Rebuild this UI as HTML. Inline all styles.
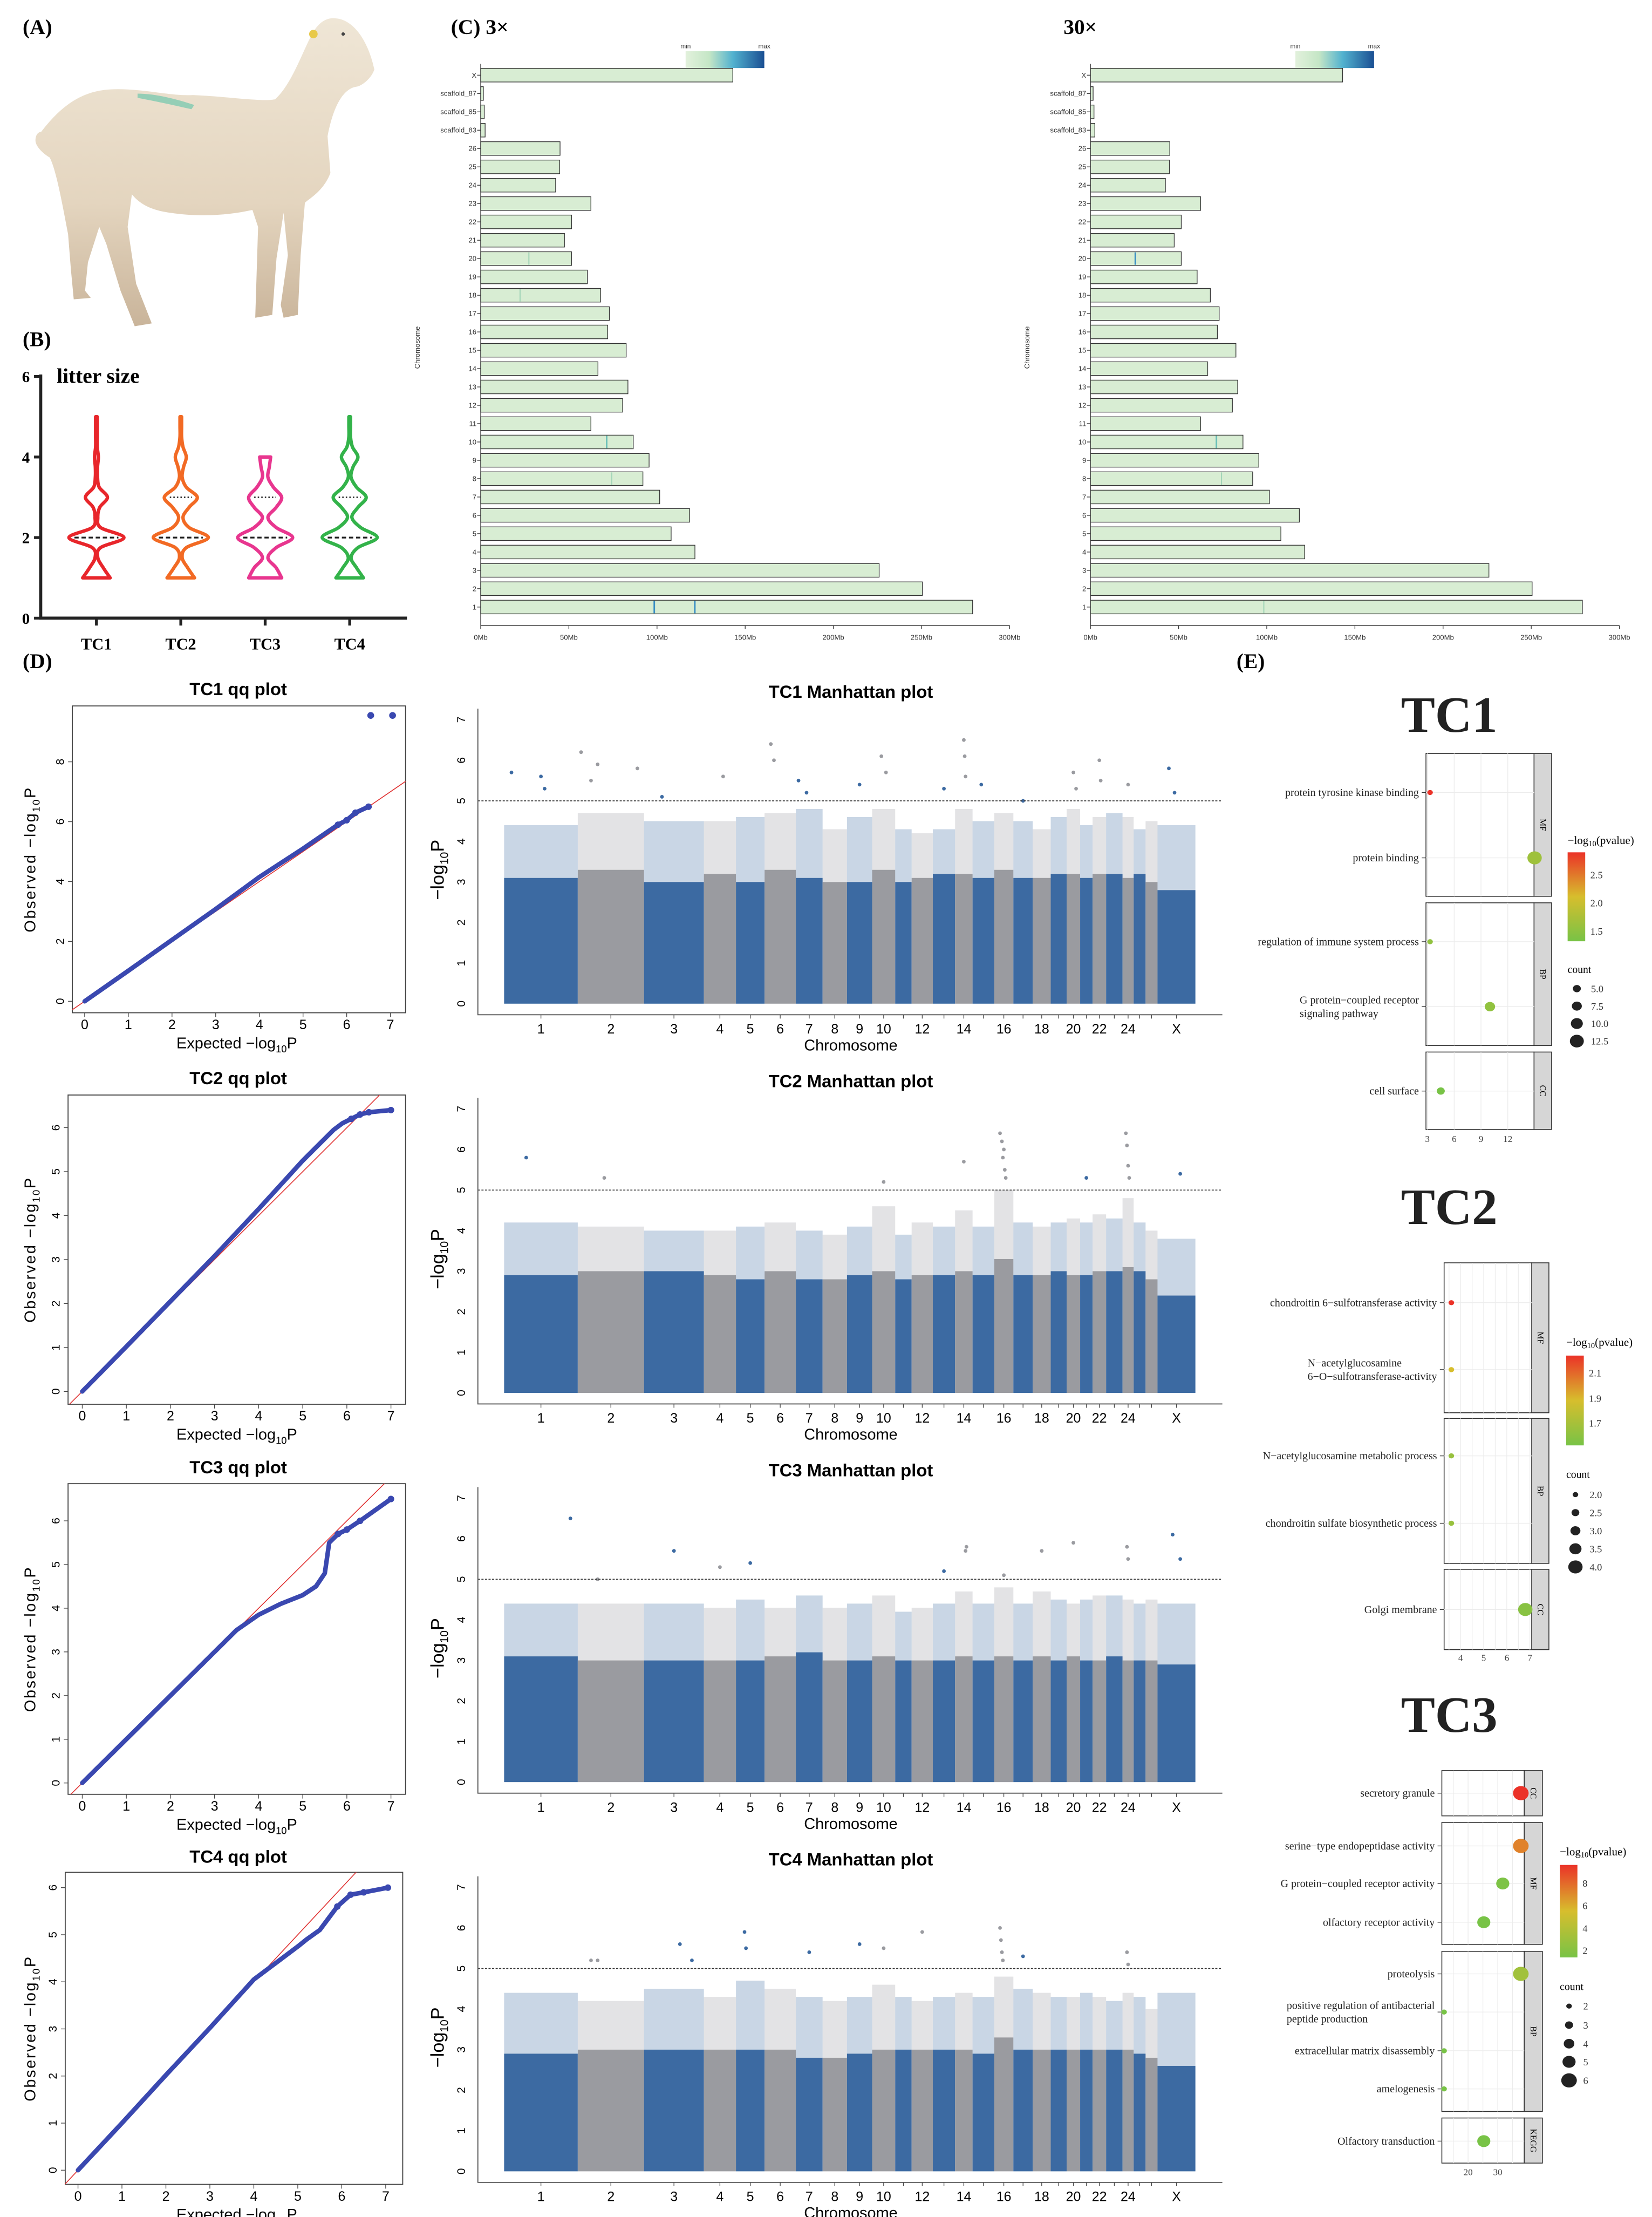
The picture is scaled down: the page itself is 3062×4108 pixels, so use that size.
<!DOCTYPE html>
<html><head><meta charset="utf-8"><style>
html,body{margin:0;padding:0;background:#fff;}
svg{display:block;}
text{font-family:"Liberation Sans",sans-serif;}
.serif{font-family:"Liberation Serif",serif;}
</style></head><body>
<svg id="fig" xmlns="http://www.w3.org/2000/svg" width="3062" height="4108" viewBox="0 0 1165 1563" preserveAspectRatio="none">
<rect x="0" y="0" width="1165" height="1563" fill="#fff"/>
<g class="serif" font-weight="bold" font-size="15">
<text x="16" y="24" class="serif">(A)</text>
<text x="16" y="244" class="serif">(B)</text>
<text x="318" y="24" class="serif">(C) 3×</text>
<text x="750" y="24" class="serif">30×</text>
<text x="16" y="471" class="serif">(D)</text>
<text x="872" y="471" class="serif">(E)</text>
</g>
<g>
<defs><linearGradient id="goatg" x1="0" y1="0" x2="0" y2="1"><stop offset="0" stop-color="#efe6d6"/><stop offset="0.6" stop-color="#e4d5bf"/><stop offset="1" stop-color="#c9b49a"/></linearGradient></defs>
<path d="M29 93 C45 72 60 64 78 63 C100 62 120 68 136 67 C160 68 185 72 194 70 C205 60 212 40 219 26 C224 16 230 12 237 13 C250 14 260 30 264 49 C262 55 256 60 252 61 C242 62 235 75 231 96 L233 122 C228 135 218 140 215 143 L212 180 L210 222 L200 224 L198 215 L203 180 L200 150 L195 182 L192 222 L180 224 L182 160 L178 148 C160 152 140 153 120 150 C105 148 98 143 93 137 L90 160 L96 200 L107 228 L95 230 L85 205 L75 172 L70 160 L62 185 L60 205 L64 210 L52 211 L50 190 L48 165 C45 150 40 120 35 111 C30 108 25 103 25 99 C25 95 27 93 29 93 Z" fill="url(#goatg)"/>
<path d="M97 66 C110 66 125 70 137 74 L135 77 C122 74 108 71 97 69 Z" fill="#7fc9b0" opacity="0.8"/>
<circle cx="221" cy="24" r="3" fill="#e8c94a"/>
<circle cx="242" cy="24" r="1.2" fill="#444"/>
</g>
<g id="violin"></g>
<g id="chromC"></g>
<g id="gwas"></g>
<g id="enrich"></g>
</svg>
<script>
// ---------- DATA ----------
const violinGroups = ['TC1','TC2','TC3','TC4'];
const violinColors = ['#e8262b','#f26a24','#e8368f','#33b34a'];
const violinLevels = [1,1.25,1.5,1.75,2,2.25,2.5,2.75,3,3.25,3.5,3.75,4,4.25,4.5,4.75,5];
const violinTC1 = [0.5,0.25,0.05,0.15,1.0,0.15,0.05,0.12,0.4,0.1,0.04,0.04,0.07,0.03,0.03,0.03,0.03];
const violinTC2 = [0.5,0.25,0.05,0.2,1.0,0.3,0.08,0.3,0.6,0.2,0.05,0.1,0.2,0.08,0.03,0.03,0.03];
const violinTC3 = [0.6,0.4,0.1,0.4,1.0,0.4,0.1,0.4,0.6,0.3,0.1,0.15,0.2];
const violinTC4 = [0.5,0.25,0.05,0.3,1.0,0.4,0.08,0.3,0.6,0.25,0.05,0.12,0.3,0.1,0.03,0.03,0.03];
const violinMedian = [2,2,2,2];
const violinQ3 = [null,3,3,3];
const violinYTicks = [0,2,4,6];

const chromLabels = ['X','scaffold_87','scaffold_85','scaffold_83','26','25','24','23','22','21','20','19','18','17','16','15','14','13','12','11','10','9','8','7','6','5','4','3','2','1'];
const lengths3x = [143,1.5,2,2.5,45,44.8,42.5,62.5,51.5,47.5,51.5,60.5,68,73,72,82.5,66.5,83.5,80.5,62.5,86.5,95.5,92,101.5,118.5,108,121.5,226,250.5,279];
const lengths30x = [143,1.5,2,2.5,45,44.8,42.5,62.5,51.5,47.5,51.5,60.5,68,73,72,82.5,66.5,83.5,80.5,62.5,86.5,95.5,92,101.5,118.5,108,121.5,226,250.5,279];
const hot3xChrom = ['1','1','10','20','8','18'];
const hot3xPos = [98,121,71,27,74,22];
const hot3xLevel = [0.6,0.6,0.35,0.25,0.2,0.15];
const hot30xChrom = ['20','10','1','8'];
const hot30xPos = [25,71,98,74];
const hot30xLevel = [0.55,0.45,0.25,0.2];
const mbTicks = [0,50,100,150,200,250,300];

const gwasNames = ['TC1','TC2','TC3','TC4'];
const chrNames = ['1','2','3','4','5','6','7','8','9','10','11','12','13','14','15','16','17','18','19','20','21','22','23','24','25','26','X'];
const chrShown = ['1','2','3','4','5','6','7','8','9','10','12','14','16','18','20','22','24','X'];
const chrLens = [278,250,226,121,108,118,101,92,95,87,62,80,84,66,82,72,73,68,60,51,47,51,62,42,45,45,143];
const denseTC1 = [3.1,3.3,3.0,3.2,3.0,3.3,3.1,3.0,3.0,3.3,3.0,3.1,3.2,3.2,3.1,3.3,3.1,3.1,3.2,3.2,3.1,3.2,3.2,3.1,3.2,3.0,2.8];
const denseTC2 = [2.9,3.0,3.0,2.9,2.8,3.0,2.8,2.8,2.9,3.0,2.8,2.9,2.9,3.0,2.9,3.3,2.9,2.9,3.0,2.9,2.9,3.0,3.0,3.1,3.0,2.8,2.4];
const denseTC3 = [3.1,3.0,3.0,3.0,3.0,3.1,3.2,3.0,3.0,3.1,3.0,3.0,3.0,3.1,3.0,3.1,3.0,3.1,3.0,3.1,3.0,3.0,3.1,3.0,3.0,3.0,2.9];
const denseTC4 = [2.9,3.0,3.0,3.0,3.0,3.0,2.8,2.8,2.9,3.0,3.0,3.0,3.0,3.0,2.9,3.3,3.0,3.0,3.0,3.0,3.0,3.0,3.0,3.0,2.9,2.8,2.6];
const sparseTC1 = [4.4,4.7,4.5,4.5,4.6,4.7,4.8,4.3,4.6,4.8,4.3,4.2,4.3,4.8,4.5,4.7,4.5,4.3,4.6,4.8,4.4,4.6,4.7,4.6,4.3,4.5,4.4];
const sparseTC2 = [4.2,4.1,4.0,4.0,4.1,4.2,4.0,3.9,4.1,4.6,3.9,4.2,4.1,4.5,4.1,5.0,4.2,4.1,4.2,4.3,4.2,4.4,4.3,4.8,4.2,4.0,3.8];
const sparseTC3 = [4.4,4.4,4.4,4.3,4.5,4.3,4.6,4.3,4.4,4.6,4.2,4.3,4.4,4.7,4.4,4.8,4.4,4.7,4.5,4.4,4.5,4.6,4.6,4.5,4.4,4.5,4.4];
const sparseTC4 = [4.4,4.2,4.5,4.3,4.7,4.5,4.3,4.2,4.3,4.6,4.3,4.2,4.3,4.4,4.3,4.8,4.5,4.4,4.3,4.3,4.4,4.3,4.2,4.4,4.3,4.0,4.4];
const peaksChrTC1 = [1,1,1,2,2,2,2,3,4,6,6,7,7,9,10,10,13,14,14,14,15,17,20,20,22,22,24,27,27];
const peaksPosTC1 = [0.1,0.5,0.55,0.05,0.3,0.2,0.9,0.3,0.6,0.2,0.3,0.1,0.4,0.5,0.4,0.6,0.5,0.5,0.55,0.6,0.4,0.5,0.5,0.7,0.5,0.6,0.5,0.3,0.45];
const peaksValTC1 = [5.7,5.6,5.3,6.2,5.9,5.5,5.8,5.1,5.6,6.4,6.0,5.5,5.2,5.4,6.1,5.7,5.3,6.5,6.1,5.6,5.4,5.0,5.7,5.3,6.0,5.5,5.4,5.8,5.2];
const peaksChrTC2 = [1,2,10,14,16,16,16,16,16,16,21,24,24,24,24,27];
const peaksPosTC2 = [0.3,0.4,0.5,0.5,0.3,0.4,0.5,0.45,0.55,0.6,0.5,0.3,0.4,0.5,0.6,0.6];
const peaksValTC2 = [5.8,5.3,5.2,5.7,6.4,6.2,6.0,5.8,5.5,5.3,5.3,6.4,6.1,5.6,5.3,5.4];
const peaksChrTC3 = [1,2,3,4,5,13,14,14,16,18,20,24,24,27,27];
const peaksPosTC3 = [0.9,0.3,0.5,0.5,0.5,0.5,0.6,0.65,0.5,0.5,0.5,0.4,0.5,0.4,0.6];
const peaksValTC3 = [6.5,5.0,5.7,5.3,5.4,5.2,5.7,5.8,5.1,5.7,5.9,5.8,5.5,6.1,5.5];
const peaksChrTC4 = [2,2,3,3,5,5,7,9,10,12,16,16,16,16,17,24,24];
const peaksPosTC4 = [0.2,0.3,0.6,0.8,0.3,0.35,0.5,0.5,0.5,0.5,0.3,0.35,0.4,0.45,0.5,0.4,0.5];
const peaksValTC4 = [5.2,5.2,5.6,5.2,5.9,5.5,5.4,5.6,5.5,5.9,6.0,5.7,5.4,5.2,5.3,5.4,5.1];

const qqExpTC1 = [0,1,2,3,4,5,5.5,5.8,6.0,6.2,6.5];
const qqObsTC1 = [0,1.02,2.05,3.08,4.15,5.1,5.6,5.9,6.05,6.3,6.5];
const qqOutExpTC1 = [6.55,7.05];
const qqOutObsTC1 = [9.55,9.55];
const qqExpTC2 = [0,1,2,3,4,4.5,5,5.3,5.5,5.7,5.9,6.1,6.3,6.5,7.0];
const qqObsTC2 = [0,1.02,2.05,3.08,4.15,4.7,5.25,5.55,5.75,5.95,6.1,6.2,6.3,6.35,6.4];
const qqExpTC3 = [0,1,2,3,3.5,4,4.5,5,5.3,5.5,5.6,5.8,6.0,6.3,7.0];
const qqObsTC3 = [0,1.0,2.0,3.0,3.5,3.85,4.1,4.3,4.5,4.8,5.5,5.7,5.8,6.0,6.5];
const qqExpTC4 = [0,1,2,3,4,4.5,5,5.2,5.5,5.7,5.9,6.2,6.5,7.05];
const qqObsTC4 = [0,1.0,2.02,3.02,4.05,4.4,4.75,4.9,5.1,5.35,5.6,5.85,5.9,6.0];

// enrichment
const e1Terms = ['protein tyrosine kinase binding','protein binding','regulation of immune system process','G protein−coupled receptor|signaling pathway','cell surface'];
const e1X = [3.3,15,3.3,10,4.5];
const e1Count = [2,13,2,8,5];
const e1P = [2.9,1.7,1.6,1.6,1.4];
const e2Terms = ['chondroitin 6−sulfotransferase activity','N−acetylglucosamine|6−O−sulfotransferase-activity','N−acetylglucosamine metabolic process','chondroitin sulfate biosynthetic process','Golgi membrane'];
const e2X = [3.6,3.6,3.6,3.6,6.8];
const e2Count = [2,2,2,2,4];
const e2P = [2.2,1.9,1.7,1.7,1.65];
const e3Terms = ['secretory granule','serine−type endopeptidase activity','G protein−coupled receptor activity','olfactory receptor activity','proteolysis','positive regulation of antibacterial|peptide production','extracellular matrix disassembly','amelogenesis','Olfactory transduction'];
const e3X = [37.8,37.8,31.7,25.3,37.8,11.9,11.9,11.9,25.3];
const e3Count = [6,6,5,5,6,2,2,2,5];
const e3P = [9,7,2.2,2,3.5,2,2,2,2];

// ---------- HELPERS ----------
const NS='http://www.w3.org/2000/svg';
function el(tag,attrs,parent){const e=document.createElementNS(NS,tag);for(const k in attrs)e.setAttribute(k,attrs[k]);parent.appendChild(e);return e;}
function tx(s,attrs,parent){const e=el('text',attrs,parent);e.textContent=s;return e;}
function smooth(pts){let d='M'+pts[0][0]+' '+pts[0][1];for(let i=0;i<pts.length-1;i++){const p0=pts[Math.max(0,i-1)],p1=pts[i],p2=pts[i+1],p3=pts[Math.min(pts.length-1,i+2)];const c1x=p1[0]+(p2[0]-p0[0])/6,c1y=p1[1]+(p2[1]-p0[1])/6,c2x=p2[0]-(p3[0]-p1[0])/6,c2y=p2[1]-(p3[1]-p1[1])/6;d+=' C'+c1x.toFixed(2)+' '+c1y.toFixed(2)+' '+c2x.toFixed(2)+' '+c2y.toFixed(2)+' '+p2[0].toFixed(2)+' '+p2[1].toFixed(2);}return d;}

// ---------- VIOLIN ----------
(function(){
const g=document.getElementById('violin');
const yS=v=>435.8-v*28.4, cx=[68,127.5,187,246.6], hw=19.4;
const ax=el('path',{d:'M28.7 264 L28.7 435.8 L287 435.8',fill:'none',stroke:'#222','stroke-width':2.2},g);


violinYTicks.forEach(t=>{
 const tk=el('line',{x1:24,x2:28.7,y1:yS(t),y2:yS(t),stroke:'#222','stroke-width':2},g);
 
 
 const l=tx(String(t),{x:21,y:yS(t)+4,'text-anchor':'end','font-size':11,'font-weight':'bold',class:'serif'},g);
 
 
});
const tl=tx('litter size',{x:40,y:270,'font-size':15,'font-weight':'bold',class:'serif'},g);


const widths=[violinTC1,violinTC2,violinTC3,violinTC4];
violinGroups.forEach((name,i)=>{
 const w=widths[i];
 const right=w.map((v,j)=>[cx[i]+v*hw,yS(violinLevels[j])]);
 const left=w.map((v,j)=>[cx[i]-v*hw,yS(violinLevels[j])]).reverse();
 const top=yS(violinLevels[w.length-1]);
 let d=smooth(right)+' L'+left[0][0].toFixed(2)+' '+top.toFixed(2)+' '+smooth(left).slice(1).replace(/^[^C]*/,'')+' Z';
 const p=el('path',{d:d,fill:'#fff',stroke:violinColors[i],'stroke-width':2.4,'stroke-linejoin':'round'},g);
 
 
 const m=el('line',{x1:cx[i]-hw*0.8,x2:cx[i]+hw*0.8,y1:yS(violinMedian[i]),y2:yS(violinMedian[i]),stroke:'#222','stroke-width':1.2,'stroke-dasharray':'3 2'},g);
 
 
 if(violinQ3[i]!==null){
  const q=el('line',{x1:cx[i]-hw*0.4,x2:cx[i]+hw*0.4,y1:yS(violinQ3[i]),y2:yS(violinQ3[i]),stroke:'#222','stroke-width':1,'stroke-dasharray':'1 1.5'},g);
  
  
 }
 const tk=el('line',{x1:cx[i],x2:cx[i],y1:435.8,y2:441,stroke:'#222','stroke-width':2},g);
 
 
 const l=tx(name,{x:cx[i],y:458,'text-anchor':'middle','font-size':11.5,'font-weight':'bold',class:'serif'},g);
 
 
});
})();

// ---------- CHROMOSOME COVERAGE ----------
(function(){
const g=document.getElementById('chromC');
const defs=el('defs',{},g);
const lg=el('linearGradient',{id:'cbar',x1:0,x2:1,y1:0,y2:0},defs);
[['0','#e2f1dc'],['0.3','#c5e6c6'],['0.6','#52b2cf'],['1','#1a4f93']].forEach(s=>el('stop',{offset:s[0],'stop-color':s[1]},lg));
function chart(x0,lens,hc,hp,hl,tag){
 const sx=v=>x0+v*(373/300), y0=53, dy=12.93, bh=9.6;
 const cg=el('g',{},g);
 
 
 const leg=el('rect',{x:x0+144.5,y:36,width:55.5,height:12,fill:'url(#cbar)'},cg);
 
 
 const mn=tx('min',{x:x0+144.5,y:34,'font-size':4.5,'text-anchor':'middle',fill:'#333'},cg);
 
 
 const mx=tx('max',{x:x0+200,y:34,'font-size':4.5,'text-anchor':'middle',fill:'#333'},cg);
 
 
 const ya=el('line',{x1:x0,x2:x0,y1:y0-8,y2:441,stroke:'#333','stroke-width':0.5},cg);
 
 
 const xa=el('line',{x1:x0,x2:sx(300),y1:441,y2:441,stroke:'#333','stroke-width':0.5},cg);
 
 
 const ct=tx('Chromosome',{x:0,y:0,'font-size':5,'text-anchor':'middle',transform:'translate('+(x0-43)+',245) rotate(-90)',fill:'#333'},cg);
 
 
 mbTicks.forEach(t=>{
  const tk=el('line',{x1:sx(t),x2:sx(t),y1:441,y2:443.5,stroke:'#333','stroke-width':0.5},cg);
  
  
  const l=tx(t+'Mb',{x:sx(t),y:451,'font-size':5,'text-anchor':'middle',fill:'#333'},cg);
  
  
 });
 chromLabels.forEach((c,i)=>{
  const y=y0+i*dy;
  const b=el('rect',{x:x0,y:y-bh/2,width:sx(lens[i])-x0,height:bh,fill:'#d8edd3',stroke:'#333','stroke-width':0.5},cg);
  
  
  const tk=el('line',{x1:x0-2.5,x2:x0,y1:y,y2:y,stroke:'#333','stroke-width':0.5},cg);
  
  
  const l=tx(c,{x:x0-3,y:y+1.7,'font-size':5,'text-anchor':'end',fill:'#333'},cg);
  
  
 });
 hc.forEach((c,k)=>{
  const i=chromLabels.indexOf(c), y=y0+i*dy;
  const col=hl[k]>0.5?'#3a8fc4':(hl[k]>0.3?'#6cc0b8':'#a3d5b8');
  const s=el('rect',{x:sx(hp[k]),y:y-bh/2+0.4,width:hl[k]>0.3?1.1:0.8,height:bh-0.8,fill:col},cg);
  
  
 });
}
chart(339,lengths3x,hot3xChrom,hot3xPos,hot3xLevel,'3x');
chart(769,lengths30x,hot30xChrom,hot30xPos,hot30xLevel,'30x');
})();

// ---------- GWAS: QQ + MANHATTAN ----------
(function(){
const g=document.getElementById('gwas');
const qqCfg=[{x0:51,x1:286,top:497.7,bot:714,xz:59.7,xu:30.8,yz:705.9,yu:21.1,yt:[0,2,4,6,8]},
 {x0:48,x1:286,top:772,bot:990,xz:58,xu:31.1,yz:981,yu:31,yt:[0,1,2,3,4,5,6]},
 {x0:48,x1:286,top:1046,bot:1265,xz:58,xu:31.1,yz:1257,yu:30.8,yt:[0,1,2,3,4,5,6]},
 {x0:46,x1:284,top:1320,bot:1540,xz:55,xu:31,yz:1530,yu:33.2,yt:[0,1,2,3,4,5,6]}];
const qqE=[qqExpTC1,qqExpTC2,qqExpTC3,qqExpTC4], qqO=[qqObsTC1,qqObsTC2,qqObsTC3,qqObsTC4];
const dense=[denseTC1,denseTC2,denseTC3,denseTC4], sparse=[sparseTC1,sparseTC2,sparseTC3,sparseTC4];
const pC=[peaksChrTC1,peaksChrTC2,peaksChrTC3,peaksChrTC4], pP=[peaksPosTC1,peaksPosTC2,peaksPosTC3,peaksPosTC4], pV=[peaksValTC1,peaksValTC2,peaksValTC3,peaksValTC4];
const total=chrLens.reduce((a,b)=>a+b,0);
const starts=[];let acc=0;chrLens.forEach(l=>{starts.push(acc);acc+=l;});
const mx0=355.5,mx1=843;
const gx=v=>mx0+v/total*(mx1-mx0);
const cd=document.createElementNS(NS,'defs');g.appendChild(cd);
gwasNames.forEach((name,r)=>{
 const off=r*274.4;
 const c=qqCfg[r];
 const qg=el('g',{},g);
 
 
 const qx=v=>c.xz+v*c.xu, qy=v=>c.yz-v*c.yu;
 const t=tx(name+'  qq plot',{x:168,y:490+off,'text-anchor':'middle','font-size':12.5,'font-weight':'bold','xml:space':'preserve'},qg);
 
 
 const box=el('rect',{x:c.x0,y:c.top,width:c.x1-c.x0,height:c.bot-c.top,fill:'none',stroke:'#444','stroke-width':0.7},qg);
 
 
 const cid='qqclip'+r;
 const cp=el('clipPath',{id:cid},cd);el('rect',{x:c.x0,y:c.top,width:c.x1-c.x0,height:c.bot-c.top},cp);
 const ref=el('line',{x1:qx(-1),y1:qy(-1),x2:qx(12),y2:qy(12),stroke:'#e03030','stroke-width':0.6,'clip-path':'url(#'+cid+')'},qg);
 
 
 const pts=qqE[r].map((e,i)=>qx(e).toFixed(2)+','+qy(qqO[r][i]).toFixed(2)).join(' ');
 const ln=el('polyline',{points:pts,fill:'none',stroke:'#3a48b0','stroke-width':3.2,'stroke-linejoin':'round','stroke-linecap':'round'},qg);
 
 
 const ne=qqE[r].length;
 for(let i=Math.max(0,ne-4);i<ne;i++){
  const d=el('circle',{cx:qx(qqE[r][i]),cy:qy(qqO[r][i]),r:2.3,fill:'#3a48b0'},qg);
  
  
 }
 if(r===0){qqOutExpTC1.forEach((e,i)=>{
  const d=el('circle',{cx:qx(e),cy:qy(qqOutObsTC1[i]),r:2.4,fill:'#3a48b0'},qg);
  
  
 });}
 [0,1,2,3,4,5,6,7].forEach(v=>{
  const tk=el('line',{x1:qx(v),x2:qx(v),y1:c.bot,y2:c.bot+3,stroke:'#444','stroke-width':0.5},qg);
  
  
  const l=tx(String(v),{x:qx(v),y:c.bot+11.5,'text-anchor':'middle','font-size':9.5},qg);
  
  
 });
 c.yt.forEach(v=>{
  const tk=el('line',{x1:c.x0-3,x2:c.x0,y1:qy(v),y2:qy(v),stroke:'#444','stroke-width':0.5},qg);
  
  
  const l=tx(String(v),{x:0,y:0,'text-anchor':'middle','font-size':8,transform:'translate('+(c.x0-6)+','+qy(v)+') rotate(-90)'},qg);
  
  
 });
 const xl=tx('Expected −log',{x:167,y:c.bot+25,'text-anchor':'middle','font-size':11},qg);
 const s1=el('tspan',{'font-size':7,dy:3},xl);s1.textContent='10';
 const s2=el('tspan',{dy:-3},xl);s2.textContent='P';
 
 
 const yl=tx('Observed  −log',{x:0,y:0,'text-anchor':'middle','font-size':11,'letter-spacing':1,'xml:space':'preserve',transform:'translate(25,'+((c.top+c.bot)/2)+') rotate(-90)'},qg);
 const s3=el('tspan',{'font-size':7,dy:3},yl);s3.textContent='10';
 const s4=el('tspan',{dy:-3},yl);s4.textContent='P';
 
 

 // Manhattan
 const mg=el('g',{},g);
 
 
 const y0=707.6+off, yu=28.6, my=v=>y0-v*yu;
 const mt=tx(name+' Manhattan plot',{x:600,y:492+off,'text-anchor':'middle','font-size':12.5,'font-weight':'bold'},mg);
 
 
 chrNames.forEach((cn,i)=>{
  const col=i%2===0?'#3c6aa2':'#9a9ba0';
  const xa=gx(starts[i]), xb=gx(starts[i]+chrLens[i]);
  const sp=el('rect',{x:xa,y:my(sparse[r][i]),width:xb-xa,height:(sparse[r][i]-dense[r][i])*yu,fill:col,opacity:0.28},mg);
  
  
  const dn=el('rect',{x:xa,y:my(dense[r][i]),width:xb-xa,height:dense[r][i]*yu,fill:col},mg);
  
  
  const tk=el('line',{x1:gx(starts[i]+chrLens[i]/2),x2:gx(starts[i]+chrLens[i]/2),y1:y0+7.8,y2:y0+10.5,stroke:'#444','stroke-width':0.5},mg);
  
  
  if(chrShown.indexOf(cn)>=0){
   const l=tx(cn,{x:gx(starts[i]+chrLens[i]/2),y:y0+21,'text-anchor':'middle','font-size':9.5},mg);
   
   
  }
 });
 pC[r].forEach((ci,k)=>{
  const i=ci-1;
  const d=el('circle',{cx:gx(starts[i]+chrLens[i]*pP[r][k]),cy:my(pV[r][k]),r:1.3,fill:i%2===0?'#3c6aa2':'#9a9ba0'},mg);
  
  
 });
 const th=el('line',{x1:337,x2:862,y1:my(5),y2:my(5),stroke:'#333','stroke-width':0.6,'stroke-dasharray':'1.5 1'},mg);
 
 
 const ax=el('path',{d:'M337 '+(y0-208)+' L337 '+(y0+7.8)+' L862 '+(y0+7.8),fill:'none',stroke:'#555','stroke-width':0.7},mg);
 
 
 [0,1,2,3,4,5,6,7].forEach(v=>{
  const l=tx(String(v),{x:0,y:0,'text-anchor':'middle','font-size':8,transform:'translate(328,'+my(v)+') rotate(-90)'},mg);
  
  
 });
 const yt=tx('−log',{x:0,y:0,'text-anchor':'middle','font-size':13,transform:'translate(313,'+(my(3.3))+') rotate(-90)'},mg);
 const t1=el('tspan',{'font-size':8,dy:3},yt);t1.textContent='10';
 const t2=el('tspan',{dy:-3},yt);t2.textContent='P';
 
 
 const xt=tx('Chromosome',{x:600,y:y0+33,'text-anchor':'middle','font-size':11},mg);
 
 
});
})();

// ---------- ENRICHMENT ----------
(function(){
const g=document.getElementById('enrich');
function col(t){
 const a=[120,195,70],b=[215,190,45],c=[235,50,40];
 let p,q,u; if(t<0.5){p=a;q=b;u=t/0.5;}else{p=b;q=c;u=(t-0.5)/0.5;}
 return 'rgb('+p.map((v,i)=>Math.round(v+(q[i]-v)*u)).join(',')+')';}
function plot(cfg){
 const pg=el('g',{},g);
 
 
 const tt=tx(cfg.name,{x:1022,y:cfg.titleY,'text-anchor':'middle','font-size':36,'font-weight':'bold',class:'serif',fill:'#222'},pg);
 
 
 const sx=v=>cfg.xz+(v-cfg.xv)*cfg.xu;
 cfg.panels.forEach(p=>{
  const fr=el('rect',{x:cfg.px0,y:p.y0,width:cfg.px1-cfg.px0,height:p.y1-p.y0,fill:'#fff',stroke:'#333','stroke-width':0.6},pg);
  
  
  cfg.grid.forEach(v=>{
   const gl=el('line',{x1:sx(v),x2:sx(v),y1:p.y0,y2:p.y1,stroke:'#ececec','stroke-width':0.5},pg);
   
   
  });
  const st=el('rect',{x:cfg.px1,y:p.y0,width:cfg.sw,height:p.y1-p.y0,fill:'#d6d6d6',stroke:'#333','stroke-width':0.6},pg);
  
  
  const sl=tx(p.label,{x:0,y:0,'text-anchor':'middle','font-size':6,class:'serif',transform:'translate('+(cfg.px1+cfg.sw/2-2)+','+((p.y0+p.y1)/2)+') rotate(90)'},pg);
  
  
 });
 cfg.terms.forEach((term,i)=>{
  const y=cfg.ys[i];
  cfg.panels.forEach(p=>{ if(y>p.y0&&y<p.y1){const gl=el('line',{x1:cfg.px0,x2:cfg.px1,y1:y,y2:y,stroke:'#ececec','stroke-width':0.5},pg);}});
  const tk=el('line',{x1:cfg.px0-3,x2:cfg.px0,y1:y,y2:y,stroke:'#333','stroke-width':0.5},pg);
  
  
  const parts=term.split('|');
  const labels=[];
  parts.forEach((s,k)=>{
   const yy=y+2.5+(k-(parts.length-1)/2)*9.5;
   const l=tx(s,{x:cfg.px0-5,y:yy,'text-anchor':'end','font-size':7.6,class:'serif',fill:'#222'},pg);
   
   
   labels.push(l);
  });
  if(labels.length>1){
   let maxW=0;labels.forEach(l=>{maxW=Math.max(maxW,l.getComputedTextLength());});
   labels.forEach(l=>{l.setAttribute('text-anchor','start');l.setAttribute('x',cfg.px0-5-maxW);});
  }
  const rr=cfg.rmin+(cfg.counts[i]-cfg.cmin)/(cfg.cmax-cfg.cmin)*(cfg.rmax-cfg.rmin);
  const d=el('ellipse',{cx:sx(cfg.xs[i]),cy:y,rx:rr*1.1,ry:rr,fill:col((cfg.ps[i]-cfg.pmin)/(cfg.pmax-cfg.pmin))},pg);
  
  
 });
 cfg.xt.forEach(v=>{
  const l=tx(String(v),{x:sx(v),y:cfg.xtY,'text-anchor':'middle','font-size':6.5,class:'serif',fill:'#444'},pg);
  
  
 });
 const lt=tx('−log',{x:cfg.lx,y:cfg.ltY,'font-size':8,class:'serif'},pg);
 const a1=el('tspan',{'font-size':5.5,dy:1.5},lt);a1.textContent='10';
 const a2=el('tspan',{dy:-1.5},lt);a2.textContent='(pvalue)';
 
 
 const gid='eg'+cfg.name;
 const lgd=el('linearGradient',{id:gid,x1:0,x2:0,y1:0,y2:1},pg);
 [['0','rgb(235,50,40)'],['0.5','rgb(215,190,45)'],['1','rgb(120,195,70)']].forEach(s=>el('stop',{offset:s[0],'stop-color':s[1]},lgd));
 const cb=el('rect',{x:cfg.lx,y:cfg.cb0,width:12.4,height:cfg.cb1-cfg.cb0,fill:'url(#'+gid+')'},pg);
 
 
 cfg.cTicks.forEach((v,k)=>{
  const l=tx(v,{x:cfg.lx+16,y:cfg.cTickY[k]+2.5,'font-size':7,class:'serif',fill:'#333'},pg);
  
  
 });
 const ctl=tx('count',{x:cfg.lx,y:cfg.cntY,'font-size':7.5,class:'serif'},pg);
 
 
 cfg.sizeVals.forEach((v,k)=>{
  const rr=cfg.rmin+(parseFloat(v)-cfg.cmin)/(cfg.cmax-cfg.cmin)*(cfg.rmax-cfg.rmin);
  const d=el('ellipse',{cx:cfg.dotX,cy:cfg.sizeY[k],rx:rr*1.1,ry:rr,fill:'#222'},pg);
  
  
  const l=tx(v,{x:cfg.dotX+10,y:cfg.sizeY[k]+2.5,'font-size':7,class:'serif',fill:'#333'},pg);
  
  
 });
}
plot({name:'TC1',titleY:516,px0:1005.6,px1:1081.8,sw:12.4,xz:1006.6,xv:3,xu:6.3,grid:[3,6,9,12,15],
 panels:[{y0:531.2,y1:631.9,label:'MF'},{y0:636.5,y1:737.1,label:'BP'},{y0:741.7,y1:796.3,label:'CC'}],
 terms:e1Terms,ys:[558.7,604.8,663.9,709.7,769.2],xs:e1X,counts:e1Count,ps:e1P,cmin:2,cmax:13,rmin:1.8,rmax:4.6,pmin:1.4,pmax:2.9,
 xt:[3,6,9,12],xtY:805,lx:1105.5,ltY:595,cb0:600.9,cb1:663.6,cTicks:['2.5','2.0','1.5'],cTickY:[616.8,636.5,656.5],cntY:686,
 sizeVals:['5.0','7.5','10.0','12.5'],sizeY:[697,709.3,721.6,734],dotX:1112});
plot({name:'TC2',titleY:863,px0:1018.4,px1:1080.2,sw:12.1,xz:1030,xv:4,xu:16.3,grid:[3.5,4,4.5,5,5.5,6,6.5,7],
 panels:[{y0:890.3,y1:996,label:'MF'},{y0:1000,y1:1102.2,label:'BP'},{y0:1106.4,y1:1163,label:'CC'}],
 terms:e2Terms,ys:[918.4,965.6,1026.4,1073.9,1134.7],xs:e2X,counts:e2Count,ps:e2P,cmin:2,cmax:4,rmin:1.8,rmax:4.6,pmin:1.6,pmax:2.2,
 xt:[4,5,6,7],xtY:1171,lx:1104.5,ltY:949,cb0:955.7,cb1:1019,cTicks:['2.1','1.9','1.7'],cTickY:[968,985.7,1003.3],cntY:1042,
 sizeVals:['2.0','2.5','3.0','3.5','4.0'],sizeY:[1053.7,1066.4,1079.2,1091.9,1104.7],dotX:1111});
plot({name:'TC3',titleY:1221,px0:1016.8,px1:1074.9,sw:12.8,xz:1035.3,xv:20,xu:2.09,grid:[15,20,25,30,35],
 panels:[{y0:1248.3,y1:1280.2,label:'CC'},{y0:1284.8,y1:1370.8,label:'MF'},{y0:1375.7,y1:1488.6,label:'BP'},{y0:1493.2,y1:1525,label:'KEGG'}],
 terms:e3Terms,ys:[1264.2,1301.4,1327.9,1355.2,1391.6,1418.5,1445.8,1472.7,1509.5],xs:e3X,counts:e3Count,ps:e3P,cmin:2,cmax:6,rmin:1.8,rmax:5,pmin:2,pmax:9,
 xt:[20,30],xtY:1533.5,lx:1100,ltY:1308,cb0:1314.8,cb1:1380,cTicks:['8','6','4','2'],cTickY:[1327.6,1343.5,1359.4,1375],cntY:1403,
 sizeVals:['2','3','4','5','6'],sizeY:[1414.3,1427.7,1440.8,1453.6,1466.7],dotX:1106.5});
})();
</script>
</body></html>
